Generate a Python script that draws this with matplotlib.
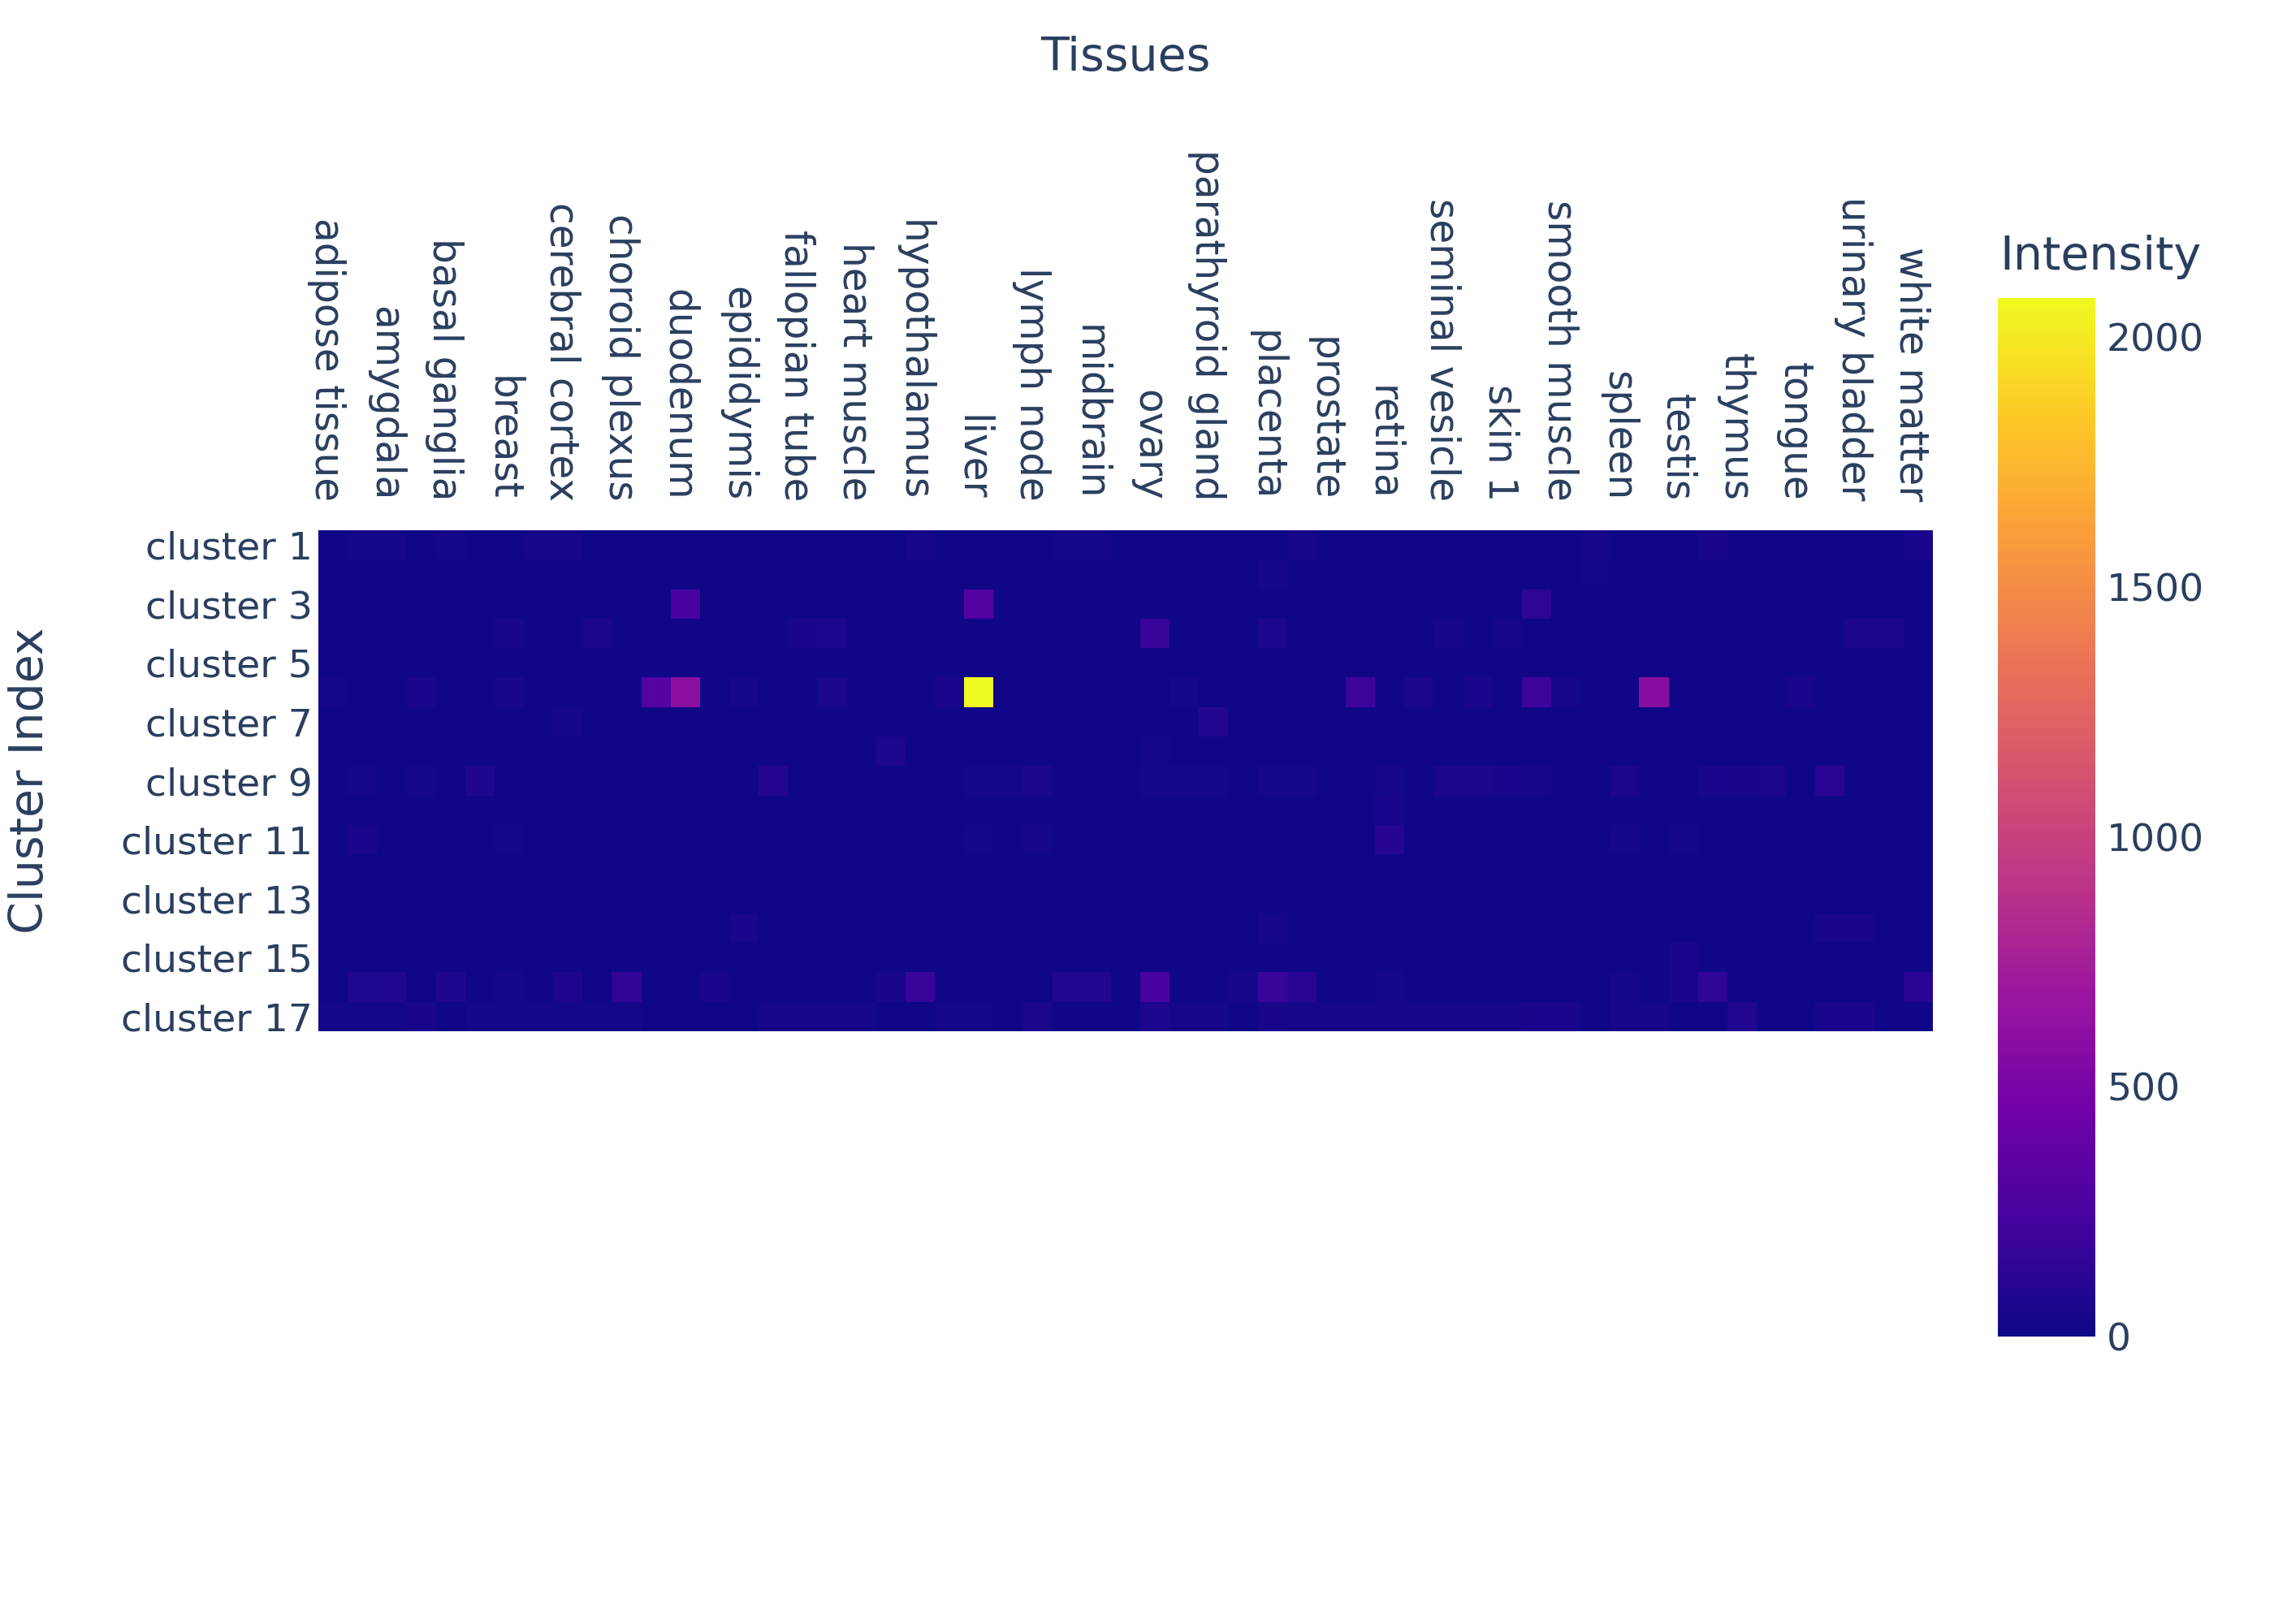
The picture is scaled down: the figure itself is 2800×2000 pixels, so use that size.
import numpy as np
import matplotlib
matplotlib.use("Agg")
import matplotlib.pyplot as plt
import matplotlib.transforms as mtransforms
from matplotlib.colors import LinearSegmentedColormap, Normalize

# ---------------- data ----------------
tissues = [
    "adipose tissue", "adrenal gland", "amygdala", "appendix", "basal ganglia",
    "bone marrow", "breast", "cerebellum", "cerebral cortex", "cervix",
    "choroid plexus", "colon", "duodenum", "endometrium 1", "epididymis",
    "esophagus", "fallopian tube", "gallbladder", "heart muscle", "hippocampal formation",
    "hypothalamus", "kidney", "liver", "lung", "lymph node",
    "medulla oblongata", "midbrain", "olfactory region", "ovary", "pancreas",
    "parathyroid gland", "pituitary gland", "placenta", "pons", "prostate",
    "rectum", "retina", "salivary gland", "seminal vesicle", "skeletal muscle",
    "skin 1", "small intestine", "smooth muscle", "spinal cord", "spleen",
    "stomach 1", "testis", "thalamus", "thymus", "thyroid gland",
    "tongue", "tonsil", "urinary bladder", "vagina", "white matter",
]

clusters = [
    "cluster 1", "cluster 2", "cluster 3", "cluster 4", "cluster 5", "cluster 6",
    "cluster 7", "cluster 8", "cluster 9", "cluster 10", "cluster 11", "cluster 12",
    "cluster 13", "cluster 14", "cluster 15", "cluster 16", "cluster 17",
]

c1 = [10,35,35,10,35, 10,10,40,40,10, 10,10,10,10,10, 10,10,10,10,10, 40,10,10,10,10, 35,35,10,10,10, 10,10,10,40,10, 10,10,10,10,10, 10,10,10,40,10, 10,10,45,10,10, 10,10,10,10,55]
c2 = [10,10,10,10,10, 10,10,10,10,10, 10,10,10,10,10, 10,10,10,10,10, 10,10,10,10,10, 10,10,10,10,10, 10,10,35,10,10, 10,10,10,10,10, 10,10,10,25,10, 10,10,10,10,10, 10,10,10,10,10]
c3 = [10,10,10,10,10, 10,10,10,10,10, 10,10,245,10,10, 10,10,10,10,10, 10,10,310,10,10, 10,10,10,10,10, 10,10,10,10,10, 10,10,10,10,10, 10,135,10,10,10, 10,10,10,10,10, 10,10,10,10,10]
c4 = [10,10,10,10,10, 10,45,10,10,60, 10,10,10,10,10, 10,55,65,10,10, 10,10,10,10,10, 10,10,10,180,10, 10,10,70,10,10, 10,10,10,40,10, 40,10,10,10,10, 10,10,10,10,10, 10,10,60,60,10]
c5 = [10,10,10,10,10, 10,10,10,10,10, 10,10,10,10,10, 10,10,10,10,10, 10,10,10,10,10, 10,10,10,10,10, 10,10,10,10,10, 10,10,10,10,10, 10,10,10,10,10, 10,10,10,10,10, 10,10,10,10,10]
c6 = [35,10,10,50,10, 10,45,10,10,10, 10,310,615,10,35, 10,10,60,10,10, 10,55,2078,10,10, 10,10,10,10,35, 10,10,10,10,10, 200,10,60,10,55, 10,200,40,10,10, 600,10,10,10,10, 55,10,10,10,10]
c7 = [10,10,10,10,10, 10,10,10,35,10, 10,10,10,10,10, 10,10,10,10,10, 10,10,10,10,10, 10,10,10,10,10, 90,10,10,10,10, 10,10,10,10,10, 10,10,10,10,10, 10,10,10,10,10, 10,10,10,10,10]
c8 = [10,10,10,10,10, 10,10,10,10,10, 10,10,10,10,10, 10,10,10,10,70, 10,10,10,10,10, 10,10,10,30,10, 10,10,10,10,10, 10,10,10,10,10, 10,10,10,10,10, 10,10,10,10,10, 10,10,10,10,10]
c9 = [10,30,10,35,10, 80,10,10,10,10, 10,10,10,10,10, 95,10,10,10,10, 10,10,35,35,60, 10,10,10,35,35, 35,10,35,35,10, 10,40,10,60,60, 50,40,10,10,60, 10,10,50,45,60, 10,120,10,10,10]
c10 = [10,10,10,10,10, 10,10,10,10,10, 10,10,10,10,10, 10,10,10,10,10, 10,10,10,10,10, 10,10,10,10,10, 10,10,10,10,10, 10,50,10,10,10, 10,10,10,10,10, 10,10,10,10,10, 10,10,10,10,10]
c11 = [10,50,10,10,10, 10,30,10,10,10, 10,10,10,10,10, 10,10,10,10,10, 10,10,35,10,40, 10,10,10,10,10, 10,10,10,10,10, 10,100,10,10,10, 10,10,10,10,30, 10,35,10,10,10, 10,10,10,10,10]
c12 = [10,10,10,10,10, 10,10,10,10,10, 10,10,10,10,10, 10,10,10,10,10, 10,10,10,10,10, 10,10,10,10,10, 10,10,10,10,10, 10,10,10,10,10, 10,10,10,10,10, 10,10,10,10,10, 10,10,10,10,10]
c13 = [10,10,10,10,10, 10,10,10,10,10, 10,10,10,10,10, 10,10,10,10,10, 10,10,10,10,10, 10,10,10,10,10, 10,10,10,10,10, 10,10,10,10,10, 10,10,10,10,10, 10,10,10,10,10, 10,10,10,10,10]
c14 = [10,10,10,10,10, 10,10,10,10,10, 10,10,10,10,50, 10,10,10,10,10, 10,10,10,10,10, 10,10,10,10,10, 10,10,40,10,10, 10,10,10,10,10, 10,10,10,10,10, 10,10,10,10,10, 10,45,45,10,10]
c15 = [10,10,10,10,10, 10,10,10,10,10, 10,10,10,10,10, 10,10,10,10,10, 10,10,10,10,10, 10,10,10,10,10, 10,10,10,10,10, 10,10,10,10,10, 10,10,10,10,10, 10,50,10,10,10, 10,10,10,10,10]
c16 = [10,85,85,10,80, 10,35,10,65,10, 150,10,10,50,10, 10,10,10,10,45, 180,10,10,10,10, 90,90,10,245,10, 10,40,180,110,10, 10,35,10,10,10, 10,10,10,10,30, 10,50,140,10,10, 10,10,10,10,110]
c17 = [35,35,35,45,10, 35,35,35,35,35, 35,10,10,10,10, 40,40,40,40,10, 10,35,35,10,60, 10,10,10,65,40, 40,10,45,40,40, 40,40,40,40,40, 40,50,50,10,40, 40,10,10,85,10, 10,55,55,10,10]

cbar_ticks = [0, 500, 1000, 1500, 2000]

# ---------------- styling ----------------
TEXT = "#2a3f5f"
plasma_stops = ["#0d0887", "#46039f", "#7201a8", "#9c179e", "#bd3786",
                "#d8576b", "#ed7953", "#fb9f3a", "#fdca26", "#f0f921"]
cmap = LinearSegmentedColormap.from_list("plotly_plasma", plasma_stops, N=512)

plt.rcParams["font.family"] = ["DejaVu Sans"]

matrix = np.array([c1, c2, c3, c4, c5, c6, c7, c8, c9, c10,
                   c11, c12, c13, c14, c15, c16, c17], dtype=float)

W, H = 2800, 2000
fig = plt.figure(figsize=(14, 10), dpi=200)

# heatmap axes (pixel box: x 392-2380, y 653-1270)
ax = fig.add_axes([392 / W, 1 - 1270 / H, (2380 - 392) / W, (1270 - 653) / H])
norm = Normalize(vmin=0, vmax=matrix.max())
im = ax.imshow(matrix, cmap=cmap, norm=norm, aspect="auto", interpolation="nearest")

xt = list(range(0, len(tissues), 2))
ax.set_xticks(xt)
ax.set_xticklabels([tissues[i] for i in xt], rotation=-90, fontsize=17.5, color=TEXT)
ax.xaxis.tick_top()
ax.tick_params(axis="x", length=0, pad=13, top=True, bottom=False,
               labeltop=True, labelbottom=False)
shift = mtransforms.ScaledTranslation(-8 / 200, 0, fig.dpi_scale_trans)
for lab in ax.get_xticklabels():
    lab.set_transform(lab.get_transform() + shift)

yt = list(range(0, len(clusters), 2))
ax.set_yticks(yt)
ax.set_yticklabels([clusters[i] for i in yt], fontsize=17, color=TEXT)
ax.tick_params(axis="y", length=0, pad=2.5)

for s in ax.spines.values():
    s.set_visible(False)

ax.xaxis.set_label_position("top")
ax.set_xlabel("Tissues", fontsize=20.5, color=TEXT, va="center")
ax.xaxis.set_label_coords(0.5, (1270 - 72) / (1270 - 653))

ax.set_ylabel("Cluster Index", fontsize=20.5, color=TEXT, va="center")
ax.yaxis.set_label_coords((37 - 392) / (2380 - 392), 0.5)

# colorbar (pixel box: x 2460-2580, y 367-1646)
cax = fig.add_axes([2460 / W, 1 - 1646 / H, 120 / W, (1646 - 367) / H])
cb = fig.colorbar(im, cax=cax, ticks=cbar_ticks)
cb.outline.set_visible(False)
cax.tick_params(length=0, pad=5, labelsize=17, labelcolor=TEXT)
fig.text(2462 / W, 1 - 317 / H, "Intensity", fontsize=20.5, color=TEXT,
         ha="left", va="center")

fig.savefig("out.png", dpi=200, facecolor="white")
